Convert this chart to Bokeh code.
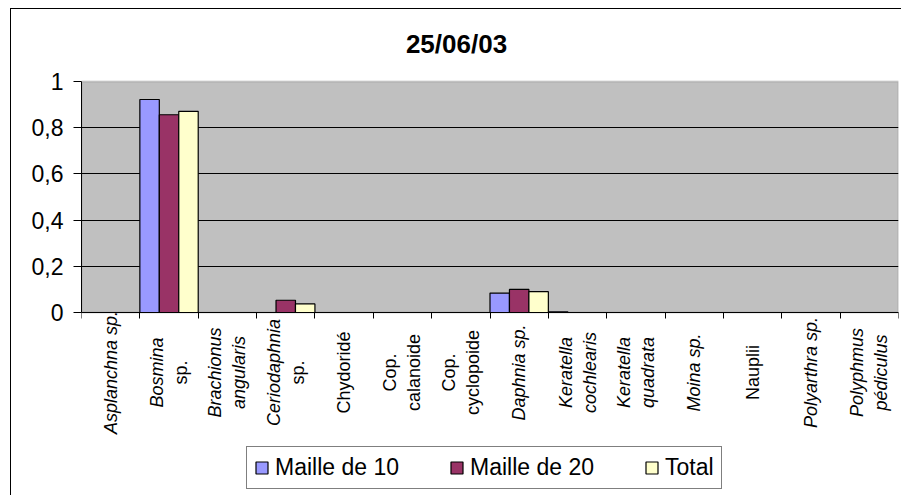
import math
from bokeh.plotting import figure
from bokeh.models import (ColumnDataSource, Range1d, FixedTicker, Label, Legend, LegendItem,
                          LinearAxis, BoxAnnotation)
from bokeh.transform import dodge
from bokeh.core.properties import value
from bokeh.embed import file_html
from bokeh.resources import INLINE

# ---- data ----
categories = ["Asplanchna sp.", "Bosmina sp.", "Brachionus angularis", "Ceriodaphnia sp.",
              "Chydoridé", "Cop. calanoide", "Cop. cyclopoide", "Daphnia sp.",
              "Keratella cochlearis", "Keratella quadrata", "Moina sp.", "Nauplii",
              "Polyarthra sp.", "Polyphmus pédiculus"]
# tick label lines (text, font style)
tick_lines = [
    [("Asplanchna sp.", "italic")],
    [("Bosmina", "italic"), ("sp.", "normal")],
    [("Brachionus", "italic"), ("angularis", "italic")],
    [("Ceriodaphnia", "italic"), ("sp.", "normal")],
    [("Chydoridé", "normal")],
    [("Cop.", "normal"), ("calanoide", "normal")],
    [("Cop.", "normal"), ("cyclopoide", "normal")],
    [("Daphnia sp.", "italic")],
    [("Keratella", "italic"), ("cochlearis", "italic")],
    [("Keratella", "italic"), ("quadrata", "italic")],
    [("Moina sp.", "italic")],
    [("Nauplii", "normal")],
    [("Polyarthra sp.", "italic")],
    [("Polyphmus", "italic"), ("pédiculus", "italic")],
]
maille10 = [0, 0.922, 0, 0, 0, 0, 0, 0.084, 0.003, 0, 0, 0, 0, 0]
maille20 = [0, 0.856, 0, 0.053, 0, 0, 0, 0.100, 0, 0, 0, 0, 0, 0]
total    = [0, 0.871, 0, 0.037, 0, 0, 0, 0.090, 0, 0, 0, 0, 0, 0]
y_ticks = [0, 0.2, 0.4, 0.6, 0.8, 1]
y_tick_labels = ["0", "0,2", "0,4", "0,6", "0,8", "1"]
title_text = "25/06/03"
series_names = ["Maille de 10", "Maille de 20", "Total"]
colors = ["#9999FF", "#993366", "#FFFFCC"]

FONT = "Liberation Sans"
n = len(categories)
ymax = y_ticks[-1]

src = ColumnDataSource(dict(
    x=[i + 0.5 for i in range(n)], cat=categories,
    m10=maille10, m20=maille20, tot=total))

# frame spans the whole figure height; plot area (0..1) is drawn as a box
px_per_unit = 231.0
y_end = 1 + 72 / px_per_unit
y_start = y_end - 487 / px_per_unit

p = figure(width=891, height=487, output_backend="svg", toolbar_location=None,
           x_range=Range1d(0, n), y_range=Range1d(y_start, y_end),
           x_axis_location=None,
           min_border_left=70, min_border_right=4, min_border_top=0, min_border_bottom=0)
p.margin = (8, 0, 0, 10)
p.styles = {"border-top": "1px solid #000000", "border-left": "1px solid #000000"}
p.background_fill_color = "white"
p.border_fill_color = "white"
p.outline_line_color = None

p.add_layout(BoxAnnotation(left=0, right=n, bottom=0, top=ymax, fill_color="#C0C0C0",
                           fill_alpha=1, line_color="#808080", line_width=2, level="image"))

bw = 1 / 3
renderers = []
for col, off, c in zip(["m10", "m20", "tot"], [-bw, 0, bw], colors):
    r = p.vbar(x=dodge("x", off), top=col, width=bw, source=src,
               fill_color=c, line_color="black", line_width=1.2)
    renderers.append(r)

# x axis fixed at y=0
xaxis = LinearAxis(fixed_location=0, ticker=FixedTicker(ticks=list(range(n + 1))))
xaxis.major_label_overrides = {i: "" for i in range(n + 1)}
xaxis.major_label_text_font_size = "1px"
xaxis.major_label_standoff = 0
xaxis.major_tick_in = 0
xaxis.major_tick_out = 6
xaxis.minor_tick_line_color = None
xaxis.axis_line_color = "black"
xaxis.major_tick_line_color = "black"
p.add_layout(xaxis, "below")
for g in p.xgrid:
    g.visible = False

p.yaxis.ticker = FixedTicker(ticks=y_ticks)
p.yaxis.bounds = (0, ymax)
p.yaxis.major_label_overrides = {t: l for t, l in zip(y_ticks, y_tick_labels)}
p.yaxis.major_label_text_font = FONT
p.yaxis.major_label_text_font_size = "23px"
p.yaxis.major_label_text_color = "black"
p.yaxis.major_label_standoff = 10
p.yaxis.major_tick_in = 0
p.yaxis.major_tick_out = 8
p.yaxis.minor_tick_line_color = None
p.yaxis.axis_line_color = "black"
p.yaxis.major_tick_line_color = "black"

p.ygrid.ticker = FixedTicker(ticks=y_ticks[1:-1])
p.ygrid.grid_line_color = "black"
p.ygrid.grid_line_width = 1

# category labels (rotated text)
lx, lt, ls, lo = [], [], [], []
for i, lines in enumerate(tick_lines):
    k = len(lines)
    for j, (txt, style) in enumerate(lines):
        lx.append(i + 0.5)
        lt.append(txt)
        ls.append(style)
        lo.append((j - (k - 1) / 2) * 24)
lab_src = ColumnDataSource(dict(x=lx, y=[0] * len(lx), text=lt, style=ls, xo=lo))
p.text(x="x", y="y", text="text", source=lab_src, x_offset="xo", y_offset=60,
       angle=math.pi / 2, text_align="center", text_baseline="middle",
       text_font=value(FONT), text_font_size="18px", text_font_style="style",
       text_color="black")

# title
p.add_layout(Label(x=n / 2, y=ymax, x_offset=-33.5, y_offset=37.5, text=title_text,
                   text_align="center", text_baseline="middle",
                   text_font=FONT, text_font_size="26px",
                   text_font_style="bold", text_color="black"))

legend = Legend(items=[LegendItem(label=s, renderers=[r]) for s, r in zip(series_names, renderers)],
                orientation="horizontal", location=(165, 7))
legend.label_text_font = FONT
legend.label_text_font_size = "23px"
legend.label_text_color = "black"
legend.glyph_width = 15
legend.glyph_height = 15
legend.label_standoff = 6
legend.spacing = 50
legend.padding = 7
legend.margin = 0
legend.border_line_color = "black"
legend.border_line_width = 1
legend.background_fill_color = "white"
legend.background_fill_alpha = 1
p.add_layout(legend, "center")

open("out.html", "w").write(file_html(p, INLINE))
